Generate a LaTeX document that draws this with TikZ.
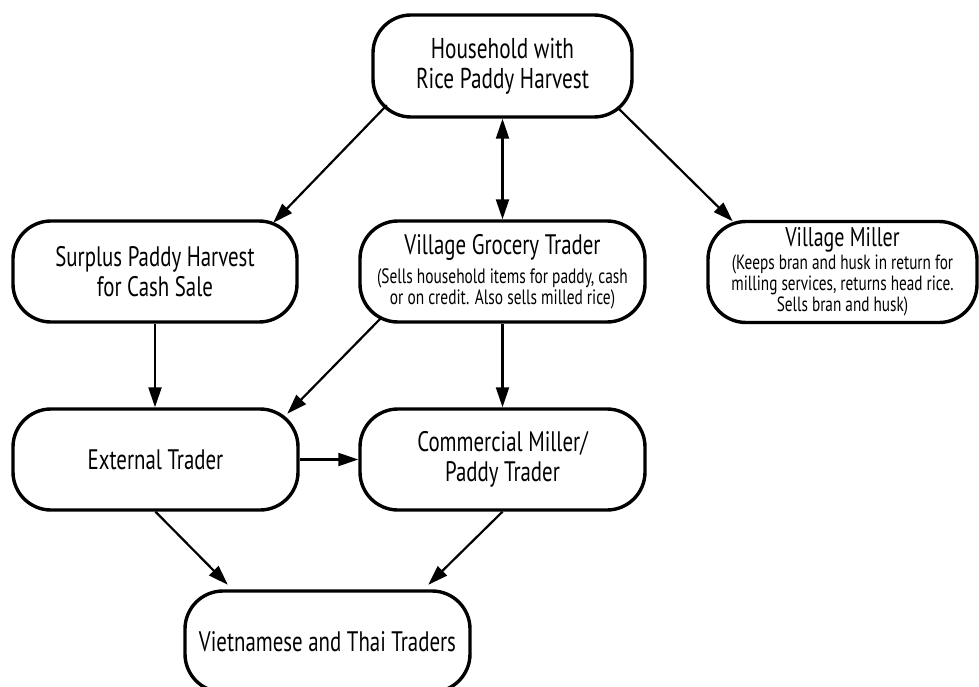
\documentclass[tikz,border=0pt]{standalone}
\usepackage{fontspec}
\setmainfont{PT Sans}[FakeStretch=0.74]
\usetikzlibrary{arrows.meta,calc}

\newcommand\titlesize{\fontsize{28.2}{30}\selectfont}
\newcommand\notesize{\fontsize{20.8}{21.5}\selectfont}
\newcommand\millnotesize{\fontsize{20.6}{20}\selectfont}

\begin{document}
\begin{tikzpicture}[x=1pt,y=-1pt,
  box/.style={draw, line width=3.4pt, rounded corners=38pt,
    minimum width=#1, minimum height=101pt, align=center,
    inner sep=0pt, font=\titlesize},
  box/.default=285pt,
  flow/.style={line width=2.2pt, -{Triangle[length=20pt,width=13pt]}},
  twoway/.style={line width=2.2pt,
    {Triangle[length=20pt,width=13pt]}-{Triangle[length=20pt,width=13pt]}},
]
\useasboundingbox (0,0) rectangle (979,687);
\clip (0,0) rectangle (979,687);

% boxes
\node[box=259pt, minimum height=102pt, font=\fontsize{28.7}{30}\selectfont] (hh) at (502.5,66)
  {Household with\\Rice Paddy Harvest};
\node[box=284pt] (sp) at (155,271.5)
  {Surplus Paddy Harvest\\for Cash Sale};
\node[box] (gr) at (502.5,271.5)
  {Village Grocery Trader\\[-1pt]\notesize (Sells household items for paddy, cash\\[-8.5pt]\notesize or on credit. Also sells milled rice)};
\node[box=269pt, font=\fontsize{27}{30}\selectfont] (vm) at (842.5,272)
  {Village Miller\\[-7pt]\millnotesize (Keeps bran and husk in return for\\[-9pt]\millnotesize milling services, returns head rice.\\[-9pt]\millnotesize Sells bran and husk)};
\node[box] (ext) at (155.5,459.5) {External Trader};
\node[box] (cm) at (502.5,459.5) {Commercial Miller/\\Paddy Trader};
\node[box] (vt) at (327.5,641.5) {Vietnamese and Thai Traders};

% flows
\draw[flow] ($(hh.south west)+(15.5,-13.5)$) -- ($(sp.north east)+(-25.5,3.5)$);
\draw[twoway] (hh.south) -- (gr.north);
\draw[flow] ($(hh.south east)+(-16.5,-11.5)$) -- ($(vm.north west)+(26.5,1.5)$);
\draw[flow] (sp.south) -- (sp.south |- ext.north);
\draw[flow] ($(gr.south west)+(23.5,-6.5)$) -- ($(ext.north east)+(-12.5,6.5)$);
\draw[flow] (gr.south) -- (cm.north);
\draw[flow] (ext.east) -- (cm.west);
\draw[flow] (ext.south) -- ($(vt.north west)+(44.5,-4.5)$);
\draw[flow] (cm.south) -- ($(vt.north east)+(-43.5,-4.5)$);
\end{tikzpicture}
\end{document}
